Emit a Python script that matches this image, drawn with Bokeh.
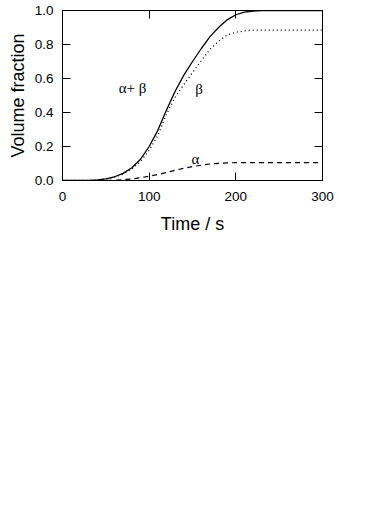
from bokeh.plotting import figure
from bokeh.models import Range1d, FixedTicker, PrintfTickFormatter, LinearAxis, ColumnDataSource
from bokeh.core.properties import value
from bokeh.embed import file_html
from bokeh.resources import INLINE

# ---- data ----
time_s = [0, 10, 20, 30, 40, 50, 60, 70, 80, 90, 100, 110, 120, 130, 140, 150,
          160, 170, 180, 190, 200, 210, 220, 230, 240, 250, 260, 280, 300]
alpha_beta = [0.0, 0.0, 0.0, 0.0, 0.003, 0.01, 0.022, 0.042, 0.075, 0.125, 0.2,
              0.295, 0.415, 0.525, 0.62, 0.70, 0.775, 0.845, 0.9, 0.945, 0.975,
              0.99, 0.997, 1.0, 1.0, 1.0, 1.0, 1.0, 1.0]
beta = [0.0, 0.0, 0.0, 0.0, 0.002, 0.009, 0.02, 0.038, 0.068, 0.112, 0.178,
        0.265, 0.39, 0.49, 0.565, 0.635, 0.705, 0.77, 0.82, 0.855, 0.872,
        0.88, 0.884, 0.885, 0.885, 0.885, 0.885, 0.885, 0.885]
alpha = [0.0, 0.0, 0.0, 0.0, 0.0, 0.0, 0.002, 0.005, 0.009, 0.016, 0.025,
         0.035, 0.047, 0.06, 0.072, 0.082, 0.09, 0.097, 0.101, 0.104, 0.105,
         0.105, 0.105, 0.105, 0.105, 0.105, 0.105, 0.105, 0.105]

x_ticks = [0, 100, 200, 300]
y_ticks = [0.0, 0.2, 0.4, 0.6, 0.8, 1.0]

labels_text = ["\u03b1+ \u03b2", "\u03b2", "\u03b1"]
labels_t = [80.8, 157.5, 153.5]
labels_v = [0.542, 0.54, 0.126]

x_title = "Time / s"
y_title = "Volume fraction"

# ---- figure ----
SANS = "Liberation Sans"
p = figure(frame_width=260, frame_height=170, output_backend="svg", toolbar_location=None,
           x_range=Range1d(0, 300), y_range=Range1d(0, 1),
           min_border_left=50, min_border_right=25, min_border_top=9,
           min_border_bottom=56, margin=(1, 0, 0, 4))
p.background_fill_color = "white"
p.border_fill_color = "white"
p.outline_line_color = "black"
p.outline_line_width = 1
p.grid.visible = False

src = ColumnDataSource(dict(t=time_s, ab=alpha_beta, b=beta, a=alpha))
p.line("t", "ab", source=src, line_color="black", line_width=1.3)
p.line("t", "b", source=src, line_color="black", line_width=1.3, line_dash="1 3")
p.line("t", "a", source=src, line_color="black", line_width=1.2, line_dash="5 4")

lsrc = ColumnDataSource(dict(x=labels_t, y=labels_v, txt=labels_text))
p.text("x", "y", text="txt", source=lsrc, text_font=value("Liberation Serif"),
       text_font_size="15px", text_align="center", text_baseline="middle",
       text_color="black")

def style_axis(ax, ticks):
    ax.ticker = FixedTicker(ticks=ticks)
    ax.minor_tick_line_color = None
    ax.major_tick_in = 8
    ax.major_tick_out = 0
    ax.major_tick_line_color = "black"
    ax.axis_line_color = "black"
    ax.major_label_text_font = SANS
    ax.major_label_text_font_size = "13.5px"
    ax.major_label_text_color = "black"
    ax.axis_label_text_font = SANS
    ax.axis_label_text_font_size = "18px"
    ax.axis_label_text_font_style = "normal"
    ax.axis_label_text_color = "black"

xa = p.xaxis[0]
style_axis(xa, x_ticks)
xa.axis_label = x_title
xa.major_label_standoff = 11
xa.axis_label_standoff = 10

ya = p.yaxis[0]
style_axis(ya, y_ticks)
ya.axis_label = y_title
ya.formatter = PrintfTickFormatter(format="%.1f")
ya.major_label_standoff = 9
ya.axis_label_standoff = 4

top = LinearAxis()
style_axis(top, x_ticks)
top.major_label_overrides = {t: "" for t in x_ticks}
top.major_label_standoff = 0
p.add_layout(top, "above")

right = LinearAxis()
style_axis(right, y_ticks)
right.major_label_overrides = {t: "" for t in y_ticks}
right.major_label_standoff = 0
p.add_layout(right, "right")

open("out.html", "w").write(file_html(p, INLINE))
